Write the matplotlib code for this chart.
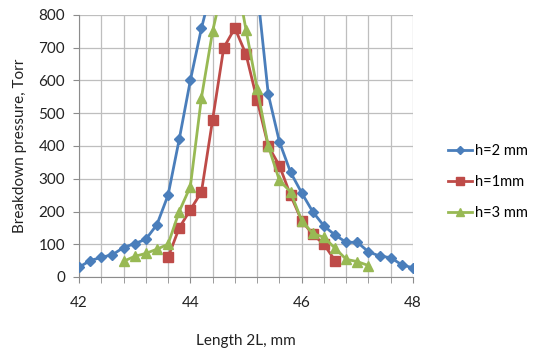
import numpy as np
import matplotlib
matplotlib.use("Agg")
import matplotlib.pyplot as plt

# chart data (values above 800 are clipped in the original)
x_h2 = [42.0, 42.2, 42.4, 42.6, 42.8, 43.0, 43.2, 43.4, 43.6, 43.8, 44.0, 44.2, 44.4, 44.6, 44.8,
        45.0, 45.2, 45.4, 45.6, 45.8, 46.0, 46.2, 46.4, 46.6, 46.8, 47.0, 47.2, 47.4, 47.6, 47.8, 48.0]
p_h2 = [30, 50, 60, 68, 90, 102, 115, 160, 250, 420, 600, 760, 893, 1000, 1100,
        1000, 881, 558, 413, 320, 257, 199, 156, 128, 106, 106, 77, 64, 59, 37, 28]

x_h1 = [43.6, 43.8, 44.0, 44.2, 44.4, 44.6, 44.8, 45.0, 45.2, 45.4, 45.6, 45.8, 46.0, 46.2, 46.4, 46.6]
p_h1 = [60, 150, 205, 260, 480, 700, 760, 680, 540, 400, 340, 250, 172, 130, 100, 50]

x_h3 = [42.8, 43.0, 43.2, 43.4, 43.6, 43.8, 44.0, 44.2, 44.4, 44.6, 44.8, 45.0, 45.2, 45.4,
        45.6, 45.8, 46.0, 46.2, 46.4, 46.6, 46.8, 47.0, 47.2]
p_h3 = [48, 63, 72, 85, 100, 200, 276, 548, 750, 900, 940, 755, 575, 400,
        295, 260, 172, 133, 121, 88, 54, 47, 35]

labels = ["h=2 mm", "h=1mm", "h=3 mm"]
x_major = [42, 44, 46, 48]
y_ticks = list(range(0, 801, 100))

plt.rcParams['font.family'] = ['Lato', 'DejaVu Sans']

fig = plt.figure(figsize=(5.34, 3.49), dpi=100)
ax = fig.add_axes([79 / 534, 1 - 277 / 349, (413 - 79) / 534, (277 - 15) / 349])

ax.plot(x_h2, p_h2, color='#4A7EBB', lw=2, marker='D', ms=5.5, label=labels[0], zorder=3)
ax.plot(x_h1, p_h1, color='#BE4B48', lw=2, marker='s', ms=7.5, label=labels[1], zorder=4)
ax.plot(x_h3, p_h3, color='#98B954', lw=2, marker='^', ms=7.5, label=labels[2], zorder=5)

ax.set_xlim(42, 48)
ax.set_ylim(0, 800)
ax.set_xticks(x_major)
ax.set_xticks(np.arange(42, 48.01, 0.4), minor=True)
ax.set_yticks(y_ticks)
ax.grid(True, which='both', color='#BEBEBE', lw=0.9, zorder=0)
ax.set_axisbelow(True)
for side in ['top', 'right']:
    ax.spines[side].set_visible(False)
for side in ['left', 'bottom']:
    ax.spines[side].set_color('#8C8C8C')
ax.tick_params(axis='both', which='both', color='#8C8C8C', length=4, labelsize=11, labelcolor='#222222')
ax.tick_params(axis='x', pad=10)
ax.tick_params(axis='y', pad=6)

ax.set_xlabel('Length 2L, mm', fontsize=11, color='#222222', labelpad=17)
ax.set_ylabel('Breakdown pressure, Torr', fontsize=11, color='#222222', labelpad=8)

fig.legend(loc='center left', bbox_to_anchor=(436 / 534, 1 - 182 / 349), frameon=False,
           fontsize=10.5, labelspacing=1.15, handlelength=1.7, handletextpad=0.2, markerscale=0.7,
           borderpad=0.3)

fig.savefig('out.png', dpi=100)
